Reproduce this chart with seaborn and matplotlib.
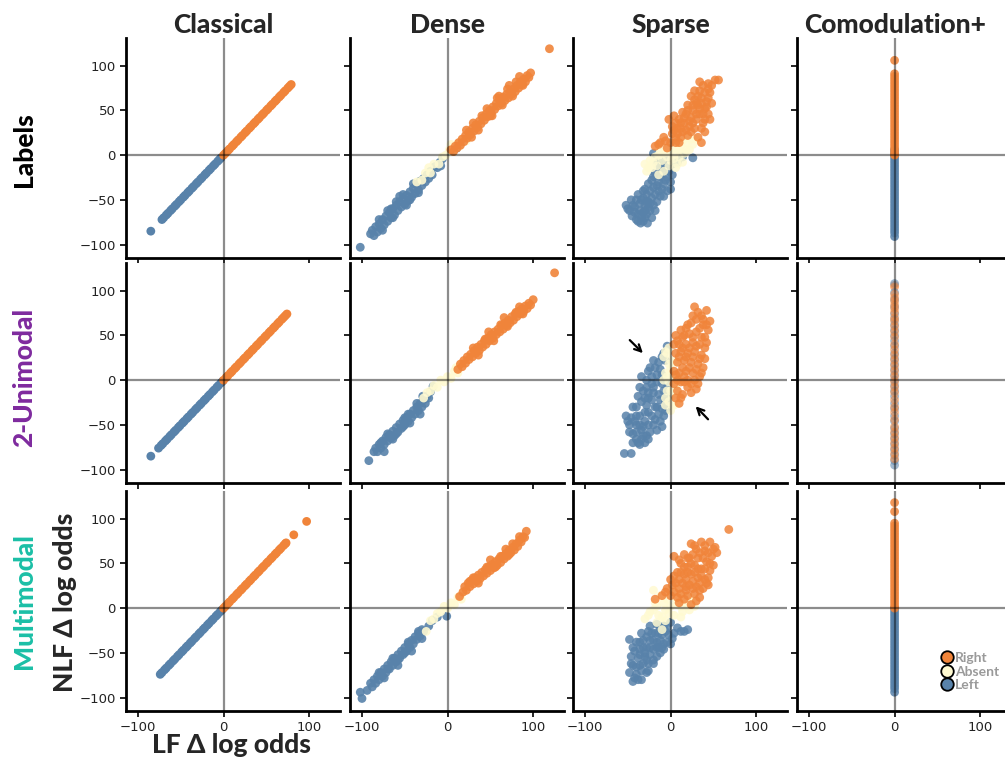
import pandas as pd
import matplotlib
matplotlib.use("Agg")
import matplotlib.pyplot as plt
from matplotlib.lines import Line2D
import seaborn as sns

# Colours and fonts
ORANGE = "#F0843A"
CREAM = "#FFFAD2"
BLUE = "#5882AA"
palette = {"Left": BLUE, "Absent": CREAM, "Right": ORANGE}
LABEL_FONT = ["Lato", "DejaVu Sans"]

columns = ["Classical", "Dense", "Sparse", "Comodulation+"]
rows = ["Labels", "2-Unimodal", "Multimodal"]
row_colors = ["black", "#7E2A9E", "#1BBFA6"]
legend_labels = ["Right", "Absent", "Left"]

# ---- Classical: LF and NLF agree, points sit on the diagonal (values read along it)
cl1_left = [-85, -72, -70, -67, -65, -62, -60, -57, -55, -52, -50, -47, -45, -42, -40, -37, -35,
            -32, -30, -27, -25, -22, -20, -17, -15, -12, -10, -7, -5, -3]
cl1_right = [0, 2, 5, 7, 10, 12, 15, 17, 20, 22, 25, 27, 30, 32, 35, 37, 40, 42, 45, 47, 50, 52,
             55, 57, 60, 62, 65, 67, 70, 72, 75, 77, 79]
cl2_left = [-85, -76, -73, -71, -68, -66, -63, -61, -58, -56, -53, -51, -48, -46, -43, -41, -38,
            -36, -33, -31, -28, -26, -23, -21, -18, -16, -13, -11, -8, -6, -3, -1]
cl2_right = [0, 3, 5, 8, 10, 13, 15, 18, 20, 23, 25, 28, 30, 33, 35, 38, 40, 43, 45, 48, 50, 53,
             55, 58, 60, 63, 65, 68, 70, 72, 74]
cl3_left = [-74, -72, -69, -67, -64, -62, -59, -57, -54, -52, -49, -47, -44, -42, -39, -37, -34,
            -32, -29, -27, -24, -22, -19, -17, -14, -12, -9, -7, -4, -2]
cl3_right = [0, 2, 5, 7, 10, 12, 15, 17, 20, 22, 25, 27, 30, 32, 35, 37, 40, 42, 45, 47, 50, 52,
             55, 57, 60, 62, 65, 67, 70, 72, 73, 82, 97]

# ---- Dense: (LF, NLF) pairs
d1_left = [(-102, -103), (-90, -88), (-88, -84), (-86, -90), (-84, -80), (-82, -86), (-80, -77),
           (-78, -82), (-76, -72), (-74, -78), (-72, -68), (-70, -74), (-68, -64), (-66, -70),
           (-64, -60), (-62, -67), (-60, -56), (-58, -62), (-56, -52), (-54, -58), (-52, -49),
           (-50, -55), (-48, -45), (-46, -51), (-44, -41), (-42, -47), (-40, -37), (-38, -43),
           (-36, -33), (-34, -39), (-32, -29), (-30, -34), (-28, -26), (-26, -30), (-24, -22),
           (-22, -26), (-20, -18), (-18, -22), (-15, -13), (-12, -14), (-9, -8), (-6, -4),
           (-8, -12), (11, 8), (-60, -52), (-52, -44), (-44, -50), (-66, -60), (-80, -72),
           (-70, -62), (-56, -46), (-48, -56), (-40, -32), (-34, -42), (-76, -84), (-64, -70)]
d1_absent = [(-36, -30), (-30, -28), (-26, -20), (-20, -20), (-16, -10), (-10, -10), (-6, -2),
             (-2, 0), (2, 6), (6, 4), (10, 12), (14, 10), (18, 18), (22, 16), (-22, -14), (4, 12)]
d1_right = [(4, 6), (7, 4), (9, 10), (11, 8), (13, 14), (15, 11), (17, 18), (19, 15), (21, 22),
            (23, 19), (25, 26), (27, 23), (29, 30), (31, 27), (33, 34), (35, 31), (37, 38),
            (39, 35), (41, 42), (43, 39), (45, 46), (47, 43), (49, 50), (51, 47), (53, 54),
            (55, 51), (57, 58), (59, 55), (61, 62), (63, 58), (65, 65), (67, 61), (69, 68),
            (71, 64), (73, 71), (75, 68), (77, 74), (79, 71), (81, 78), (83, 75), (85, 82),
            (87, 79), (89, 85), (91, 82), (93, 89), (95, 87), (97, 92), (119, 119),
            (60, 66), (70, 74), (50, 44), (40, 44), (80, 82), (30, 36), (36, 28), (46, 52),
            (52, 44), (58, 64), (64, 56), (72, 78), (76, 66), (84, 88), (88, 78), (22, 28),
            (28, 20)]

d2_left = [(-92, -90), (-86, -80), (-84, -76), (-82, -80), (-80, -72), (-78, -76), (-76, -68),
           (-74, -72), (-72, -64), (-70, -68), (-68, -61), (-66, -65), (-64, -57), (-62, -62),
           (-60, -53), (-58, -58), (-56, -49), (-54, -54), (-52, -45), (-50, -50), (-48, -42),
           (-46, -46), (-44, -38), (-42, -42), (-40, -34), (-38, -38), (-36, -30), (-34, -34),
           (-32, -26), (-30, -30), (-28, -22), (-26, -26), (-24, -18), (-22, -20), (-20, -13),
           (-17, -7), (-29, -18), (-60, -60), (-52, -52), (-46, -38), (-70, -60), (-64, -66),
           (-50, -42), (-44, -48), (-36, -26), (-32, -38), (-78, -70), (-74, -80)]
d2_absent = [(-24, -14), (-20, -12), (-16, -6), (-12, -8), (-8, 0), (-4, -2), (0, 4), (4, 2),
             (8, 10), (12, 8), (14, 16), (-28, -20), (10, 14)]
d2_right = [(12, 12), (15, 18), (17, 15), (19, 22), (21, 19), (23, 26), (25, 23), (27, 29),
            (29, 26), (31, 33), (33, 30), (35, 37), (37, 33), (39, 40), (41, 37), (43, 44),
            (45, 40), (47, 47), (49, 44), (51, 51), (53, 47), (55, 54), (57, 51), (59, 57),
            (61, 54), (63, 61), (65, 57), (67, 64), (69, 61), (71, 67), (73, 64), (75, 71),
            (77, 67), (79, 74), (81, 71), (83, 77), (85, 74), (87, 80), (89, 77), (91, 83),
            (93, 80), (95, 86), (97, 84), (100, 90), (125, 120), (44, 46), (62, 62), (80, 76),
            (30, 36), (36, 28), (48, 54), (54, 44), (66, 70), (70, 60), (84, 82), (88, 74)]

d3_left = [(-100, -101), (-102, -94), (-94, -92), (-90, -84), (-88, -88), (-86, -80), (-84, -84),
           (-82, -76), (-80, -80), (-78, -72), (-76, -76), (-74, -68), (-72, -72), (-70, -64),
           (-68, -68), (-66, -60), (-64, -64), (-62, -56), (-60, -60), (-58, -52), (-56, -56),
           (-54, -48), (-52, -52), (-50, -44), (-48, -48), (-46, -40), (-44, -44), (-42, -36),
           (-40, -40), (-38, -32), (-36, -35), (-34, -28), (-32, -31), (-30, -24), (-28, -26),
           (-22, -20), (-18, -14), (-12, -10), (-1, -9), (-58, -58), (-50, -50), (-70, -68),
           (-80, -72), (-74, -78), (-64, -56), (-58, -64), (-46, -38), (-42, -48), (-34, -26),
           (-30, -34)]
d3_absent = [(-25, -26), (-20, -14), (-16, -12), (-12, -6), (-8, -4), (-4, 2), (0, 0), (4, 6),
             (8, 4), (12, 12), (16, 10), (18, 18), (14, 13)]
d3_right = [(14, 13), (18, 18), (20, 24), (22, 20), (24, 28), (26, 24), (28, 31), (30, 27),
            (32, 34), (34, 30), (36, 37), (38, 33), (40, 40), (42, 36), (44, 43), (46, 39),
            (48, 46), (50, 42), (52, 49), (54, 45), (56, 52), (58, 48), (60, 55), (62, 51),
            (64, 58), (66, 55), (68, 61), (70, 58), (72, 65), (74, 62), (76, 68), (78, 65),
            (80, 72), (82, 69), (84, 76), (86, 74), (88, 80), (90, 79), (92, 86),
            (46, 46), (62, 58), (76, 72), (30, 34), (36, 28), (50, 54), (56, 46), (68, 66),
            (72, 60), (84, 80), (26, 30)]

# ---- Sparse: (LF, NLF) pairs
sp1_left = [(-52, -56), (-48, -62), (-45, -68), (-40, -72), (-35, -76), (-27, -76), (-30, -70),
            (-42, -58), (-46, -50), (-40, -50), (-36, -62), (-32, -64), (-28, -66), (-24, -62),
            (-22, -70), (-38, -44), (-34, -50), (-30, -56), (-26, -52), (-20, -56), (-16, -52),
            (-32, -40), (-28, -44), (-24, -40), (-18, -44), (-12, -46), (-26, -32), (-22, -28),
            (-16, -34), (-10, -38), (-4, -40), (0, -38), (-18, -20), (-12, -24), (-6, -28),
            (0, -30), (-8, -14), (-2, -18), (2, -22), (-14, -8), (-20, 2), (-6, -6), (8, -8),
            (26, -3), (14, -2), (-50, -60), (-44, -56), (-38, -66), (-34, -70), (-30, -62),
            (-26, -58), (-42, -64), (-36, -54), (-32, -48), (-28, -52), (-22, -48), (-24, -54),
            (-30, -38), (-20, -36), (-14, -40), (-20, -24), (-14, -30), (-8, -32), (-10, -20),
            (-4, -24), (-4, -12), (-12, -16), (-16, -10), (2, -10), (-8, -46), (-18, -62),
            (-38, -74), (-32, -74)]
sp1_absent = [(-30, -10), (-28, -18), (-24, -6), (-22, -14), (-18, -2), (-16, -12), (-12, 4),
              (-10, -6), (-6, 8), (-4, -2), (-2, -12), (0, 4), (2, 12), (4, -4), (6, 6), (8, 16),
              (10, -2), (12, 10), (16, 2), (18, 14), (20, 20), (22, 6), (26, 12), (30, 18),
              (-8, -18), (-14, -22), (6, -14), (14, -8), (-20, -8), (-14, 0), (-8, 2), (-2, 8),
              (4, 8), (10, 6), (14, 16), (24, 18), (-26, -14), (0, -6), (8, -10), (18, 6)]
sp1_right = [(-18, 10), (-12, 14), (-8, 20), (-4, 8), (0, 14), (2, 24), (6, 20), (8, 30), (10, 14),
             (14, 26), (16, 36), (20, 22), (22, 32), (24, 42), (26, 50), (28, 30), (30, 40),
             (32, 56), (34, 46), (36, 64), (38, 36), (40, 52), (42, 60), (44, 46), (46, 70),
             (48, 58), (10, 40), (14, 48), (20, 56), (6, 36), (2, 32), (18, 46), (28, 62),
             (34, 72), (38, 78), (34, 82), (44, 80), (52, 84), (56, 84), (46, 40), (40, 26),
             (36, 14), (32, 20), (-2, 40), (4, 44), (24, 66), (4, 28), (8, 24), (12, 30),
             (18, 28), (22, 38), (26, 36), (30, 46), (34, 52), (38, 46), (42, 54), (44, 64),
             (40, 70), (30, 58), (26, 56), (20, 50), (16, 42), (12, 36), (36, 58), (32, 66),
             (28, 72), (40, 40), (44, 74), (48, 78), (6, 14), (-6, 16), (-14, 12), (36, 30),
             (24, 26), (12, 20)]

sp2_left = [(-54, -82), (-46, -82), (-44, -70), (-40, -66), (-36, -72), (-30, -70), (-28, -62),
            (-44, -60), (-48, -50), (-52, -40), (-46, -42), (-40, -50), (-34, -56), (-24, -58),
            (-20, -50), (-36, -40), (-30, -46), (-26, -36), (-18, -44), (-12, -46), (-8, -40),
            (-40, -30), (-34, -24), (-28, -28), (-22, -22), (-16, -30), (-10, -32), (-6, -24),
            (-32, -12), (-26, -14), (-20, -8), (-14, -16), (-8, -12), (-4, -4), (-28, 0),
            (-22, 4), (-16, -2), (-10, 6), (-34, 4), (-26, 10), (-18, 14), (-14, 20), (-20, 22),
            (-8, 30), (-4, 38), (-38, -18), (-44, -30), (-50, -46), (-42, -46), (-48, -58),
            (-40, -58), (-38, -70), (-32, -62), (-34, -66), (-26, -66), (-36, -50), (-26, -50),
            (-32, -52), (-22, -40), (-14, -38), (-30, -36), (-40, -40), (-18, -30), (-26, -20),
            (-30, -20), (-12, -22), (-20, -14), (-10, -4), (-16, 6), (-22, -4), (-12, 12),
            (-24, 14), (-28, -8), (-36, -8), (-4, -30), (-4, -18), (-6, -34), (-10, -52),
            (-16, -56), (-6, 22), (-10, 26)]
sp2_absent = [(-8, 26), (-4, 30), (-2, 18), (0, 12), (-6, 8), (2, 4), (-2, -2), (4, -8),
              (-4, -12), (2, -18), (-2, -24), (4, -28), (0, -34), (-6, -20), (6, -14), (-8, 0),
              (6, 20), (6, 0), (-6, 32), (-2, 36), (-4, 4), (0, -12), (-6, -28), (2, -28),
              (6, -6), (0, 22)]
sp2_right = [(28, 82), (42, 78), (36, 72), (46, 66), (30, 68), (24, 64), (38, 62), (44, 56),
             (12, 56), (18, 58), (6, 50), (14, 48), (22, 52), (30, 54), (40, 48), (4, 40),
             (10, 40), (18, 40), (26, 42), (34, 40), (42, 42), (6, 30), (12, 32), (20, 30),
             (28, 32), (36, 28), (8, 20), (16, 22), (24, 20), (32, 18), (38, 14), (10, 8),
             (18, 10), (26, 8), (34, 4), (8, 0), (16, -2), (24, -4), (30, -10), (8, -12),
             (14, -16), (10, -26), (6, -20), (4, 10), (20, 0), (32, -4), (32, 76), (38, 68),
             (26, 72), (20, 62), (34, 58), (42, 62), (16, 50), (26, 48), (36, 48), (8, 44),
             (14, 36), (22, 36), (30, 38), (40, 36), (10, 26), (18, 26), (26, 26), (34, 24),
             (40, 24), (14, 14), (22, 14), (30, 12), (12, -2), (20, -8), (28, 0), (6, 6),
             (12, -20), (16, 4), (36, 8), (24, -14), (4, -4)]

sp3_left = [(-48, -35), (-44, -82), (-34, -80), (-48, -72), (-40, -74), (-28, -72), (-44, -64),
            (-36, -64), (-26, -62), (-46, -54), (-38, -56), (-30, -54), (-20, -58), (-44, -44),
            (-36, -46), (-28, -44), (-20, -46), (-12, -50), (-40, -38), (-32, -36), (-24, -36),
            (-16, -38), (-8, -40), (0, -40), (-34, -28), (-26, -26), (-18, -28), (-10, -30),
            (-2, -30), (-24, -20), (-16, -18), (-8, -20), (0, -16), (8, -22), (12, -26),
            (20, -24), (-30, -50), (-14, -44), (-42, -78), (-38, -80), (-46, -62), (-40, -66),
            (-32, -62), (-34, -70), (-28, -58), (-42, -48), (-36, -52), (-24, -52), (-16, -54),
            (-32, -44), (-24, -44), (-16, -44), (-8, -46), (-36, -38), (-28, -32), (-20, -36),
            (-12, -36), (-4, -38), (-22, -28), (-14, -28), (-6, -26), (-12, -22), (-4, -22),
            (4, -28), (16, -26), (-20, -62), (-26, -70), (-10, -44), (2, -34)]
sp3_absent = [(-30, -12), (-24, -4), (-18, 6), (-20, 20), (-12, 14), (-14, -8), (-6, -2),
              (-4, 10), (0, 2), (2, 16), (4, -8), (8, 4), (10, 14), (14, -4), (16, 8), (20, 2),
              (24, 12), (28, 2), (-10, -24), (-6, -14), (12, -10), (6, 22), (-16, -16),
              (-26, -8), (-16, 2), (-8, 6), (-2, -6), (6, 10), (12, 2), (18, 12), (22, -2),
              (-2, 20), (-10, -10), (-20, -2), (26, 8)]
sp3_right = [(68, 88), (24, 72), (36, 74), (46, 74), (52, 68), (54, 62), (30, 66), (40, 64),
             (48, 58), (4, 58), (16, 60), (22, 56), (32, 56), (42, 52), (50, 48), (12, 50),
             (20, 46), (28, 48), (36, 44), (46, 42), (8, 40), (16, 38), (24, 38), (32, 34),
             (40, 32), (44, 26), (0, 32), (6, 28), (14, 28), (22, 26), (30, 24), (38, 22),
             (-4, 22), (4, 18), (12, 16), (20, 14), (28, 16), (-10, 14), (-18, 10), (10, 6),
             (24, 4), (18, 20), (34, 12), (28, 70), (40, 70), (50, 66), (44, 62), (34, 62),
             (26, 60), (20, 56), (10, 54), (38, 56), (46, 50), (24, 50), (16, 46), (32, 44),
             (40, 44), (12, 40), (20, 40), (28, 40), (36, 36), (44, 34), (4, 36), (10, 32),
             (18, 32), (26, 30), (34, 28), (42, 28), (2, 26), (10, 22), (18, 24), (26, 22),
             (34, 20), (8, 12), (16, 10), (0, 14), (-6, 18), (30, 8)]

# ---- Comodulation+: LF change is zero, NLF values only
cm1_left = [6, 3, 0, -3, -6, -9, -12, -15, -18, -21, -24, -27, -30, -33, -36, -39, -42, -45, -48,
            -51, -54, -57, -60, -63, -66, -69, -72, -75, -78, -81, -84, -87, -91]
cm1_right = [106, 91, 88, 85, 82, 79, 76, 73, 70, 67, 64, 61, 58, 55, 52, 49, 46, 43, 40, 37, 34,
             31, 28, 25, 22, 19, 16, 13, 10, 7, 4, 1, 0]
cm2_left = [108, 98, 90, 82, 74, 68, 62, 56, 50, 44, 38, 30, 24, 18, 12, 6, 0, -6, -12, -18, -26,
            -32, -40, -46, -54, -60, -66, -72, -78, -84, -90, -95]
cm2_right = [106, 104, 96, 92, 88, 84, 80, 76, 70, 66, 60, 54, 48, 40, 34, 28, 22, 16, 10, 4, -2,
             -8, -14, -22, -30, -36, -44, -52, -58, -64, -70, -76, -82, -88]
cm3_left = [0, -3, -6, -9, -12, -15, -18, -21, -24, -27, -30, -33, -36, -39, -42, -45, -48, -51,
            -54, -57, -60, -63, -66, -69, -72, -75, -78, -81, -84, -87, -90, -94]
cm3_right = [118, 108, 95, 92, 89, 86, 83, 80, 77, 74, 71, 68, 65, 62, 59, 56, 53, 50, 47, 44, 41,
             38, 35, 32, 29, 26, 23, 20, 17, 14, 11, 8, 5, 2, 0]


def on_diagonal(vals):
    return [(v, v) for v in vals]


def on_axis(vals):
    return [(0, v) for v in vals]


def make_df(left, absent, right):
    recs = [(x, y, "Left") for x, y in left]
    recs += [(x, y, "Absent") for x, y in absent]
    recs += [(x, y, "Right") for x, y in right]
    return pd.DataFrame(recs, columns=["lf", "nlf", "side"])


def make_mixed_df(left, right):
    # interleave the two groups so neither hides the other
    recs = []
    for i in range(max(len(left), len(right))):
        if i < len(right):
            recs.append((right[i][0], right[i][1], "Right"))
        if i < len(left):
            recs.append((left[i][0], left[i][1], "Left"))
    return pd.DataFrame(recs, columns=["lf", "nlf", "side"])


panels = [
    [(make_df(on_diagonal(cl1_left), [], on_diagonal(cl1_right)), 1.0),
     (make_df(d1_left, d1_absent, d1_right), 0.9),
     (make_df(sp1_left, sp1_absent, sp1_right), 0.85),
     (make_df(on_axis(cm1_left), [], on_axis(cm1_right)), 0.85)],
    [(make_df(on_diagonal(cl2_left), [], on_diagonal(cl2_right)), 1.0),
     (make_df(d2_left, d2_absent, d2_right), 0.9),
     (make_df(sp2_left, sp2_absent, sp2_right), 0.85),
     (make_mixed_df(on_axis(cm2_left), on_axis(cm2_right)), 0.55)],
    [(make_df(on_diagonal(cl3_left), [], on_diagonal(cl3_right)), 1.0),
     (make_df(d3_left, d3_absent, d3_right), 0.9),
     (make_df(sp3_left, sp3_absent, sp3_right), 0.85),
     (make_df(on_axis(cm3_left), [], on_axis(cm3_right)), 0.85)],
]

sns.set_theme(style="ticks")
plt.rcParams["font.family"] = ["DejaVu Sans"]

W, H = 1005, 758
fig = plt.figure(figsize=(W / 100, H / 100), dpi=100)

col_left = [126, 350, 573, 797]
row_top = [38, 263, 491]
ax_w, ax_h = 214, 220

for r in range(3):
    for c in range(4):
        ax = fig.add_axes([col_left[c] / W, 1 - (row_top[r] + ax_h) / H, ax_w / W, ax_h / H])
        df, alpha = panels[r][c]
        sns.scatterplot(data=df, x="lf", y="nlf", hue="side", palette=palette, s=40,
                        linewidth=0, alpha=alpha, legend=False, ax=ax)
        ax.axhline(0, color="black", alpha=0.45, lw=1.6, zorder=5)
        ax.axvline(0, color="black", alpha=0.45, lw=1.6, zorder=5)
        ax.set_xlim(-114, 136)
        ax.set_ylim(-115, 131)
        ax.set_xticks([-100, 0, 100])
        ax.set_yticks([-100, -50, 0, 50, 100])
        ax.set_xlabel("")
        ax.set_ylabel("")
        sns.despine(ax=ax)
        for sp in ["left", "bottom"]:
            ax.spines[sp].set_linewidth(2)
            ax.spines[sp].set_color("black")
        ax.tick_params(length=4, width=1.2, labelsize=9.5, colors="black", labelcolor="#222222")
        if c > 0:
            ax.set_yticklabels([])
        if r < 2:
            ax.set_xticklabels([])
        if r == 0:
            ax.text(0, 1.06, columns[c], transform=ax.get_xaxis_transform(), ha="center",
                    va="center", fontsize=19, fontweight=900, family=LABEL_FONT)
        if r == 1 and c == 2:
            ax.annotate("", xy=(-30, 28), xytext=(-50, 47),
                        arrowprops=dict(arrowstyle="->", color="black", lw=1.6))
            ax.annotate("", xy=(27, -27), xytext=(46, -46),
                        arrowprops=dict(arrowstyle="->", color="black", lw=1.6))

# Row labels
row_centers = [150, 377, 601]
for name, col, yc in zip(rows, row_colors, row_centers):
    fig.text(24 / W, 1 - yc / H, name, rotation=90, ha="center", va="center", fontsize=19,
             fontweight=900, color=col, family=LABEL_FONT)

fig.text(65 / W, 1 - 602 / H, "NLF Δ log odds", rotation=90, ha="center", va="center",
         fontsize=19, fontweight=900, family=LABEL_FONT)
fig.text(231 / W, 1 - 745 / H, "LF Δ log odds", ha="center", va="center",
         fontsize=19, fontweight=900, family=LABEL_FONT)

handles = [Line2D([], [], marker="o", ls="", markerfacecolor=palette[k], markeredgecolor="black",
                  markeredgewidth=1.3, markersize=9, label=k) for k in legend_labels]
fig.legend(handles=handles, loc="upper left", bbox_to_anchor=(941 / W, 1 - 652 / H),
           frameon=False, handletextpad=0.1, labelspacing=0.12, handlelength=0.9,
           borderpad=0, borderaxespad=0, labelcolor="#9A9A9A",
           prop=dict(family=LABEL_FONT, weight="bold", size=10))

fig.savefig("out.png", dpi=100)
